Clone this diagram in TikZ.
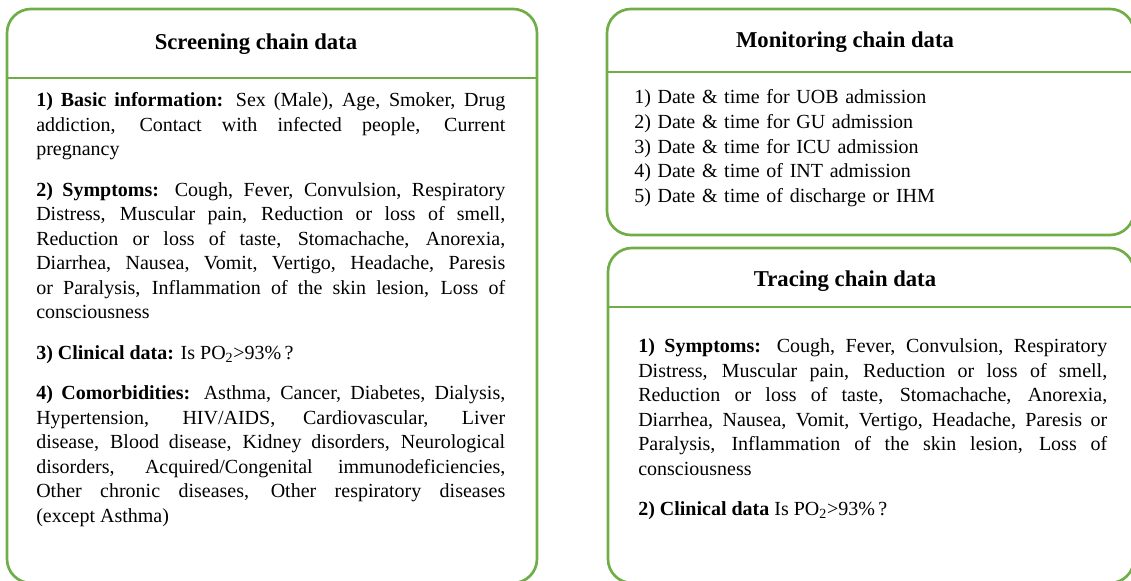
\documentclass[tikz,border=0pt]{standalone}
\usepackage{xcolor}
\usepackage{tikz}
\usepackage{fontspec}
\setmainfont{Liberation Serif}
\usetikzlibrary{positioning,calc}
\definecolor{chaingreen}{RGB}{112,173,71}

\begin{document}
\begin{tikzpicture}[x=0.75pt, y=-0.75pt,
  chainbox/.style={draw=chaingreen, line width=2pt, rounded corners=18pt},
  chainline/.style={draw=chaingreen, line width=2pt},
  chaintitle/.style={anchor=base, inner sep=0pt, font=\fontsize{17}{20}\selectfont\bfseries},
  chaintext/.style={anchor=base west, inner sep=0pt, text width=351.75pt, align=justify,
    font=\fontsize{15}{18.4}\selectfont, execute at begin node={\setlength{\parskip}{12pt}}}]
  \useasboundingbox (0,0) rectangle (1131,581);

  % Frames and header lines
  \foreach \l/\t/\r/\b/\d in {7/9/537/583/78, 607/9/1134/235/72, 608/248/1134/583/307} {
    \draw[chainbox] (\l,\t) rectangle (\r,\b);
    \draw[chainline] (\l,\d) -- (\r,\d);
  }

  % Titles
  \node[chaintitle] (screentitle) at (256,49.5) {Screening chain data};
  \node[chaintitle] (monitortitle) at (845,47.5) {Monitoring chain data};
  \node[chaintitle] (tracetitle) at (845,286.5) {Tracing chain data};

  % Screening chain
  \node[chaintext] (screentext) at (36,106.5) {%
    \textbf{1) Basic information:} Sex (Male), Age, Smoker, Drug\linebreak
    addiction, Contact with infected people, Current\linebreak
    pregnancy\par
    \textbf{2) Symptoms:} Cough, Fever, Convulsion, Respiratory\linebreak
    Distress, Muscular pain, Reduction or loss of smell,\linebreak
    Reduction or loss of taste, Stomachache, Anorexia,\linebreak
    Diarrhea, Nausea, Vomit, Vertigo, Headache, Paresis\linebreak
    or Paralysis, Inflammation of the skin lesion, Loss of\linebreak
    consciousness\par
    \textbf{3) Clinical data:} Is PO\textsubscript{2}>93\%\,?\par
    \textbf{4) Comorbidities:} Asthma, Cancer, Diabetes, Dialysis,\linebreak
    Hypertension, HIV/AIDS, Cardiovascular, Liver\linebreak
    disease, Blood disease, Kidney disorders, Neurological\linebreak
    disorders, Acquired/Congenital immunodeficiencies,\linebreak
    Other chronic diseases, Other respiratory diseases\linebreak
    (except Asthma)};

  % Monitoring chain
  \node[chaintext, align=left] (monitortext) at (634,104) {%
    1) Date \& time for UOB admission\\
    2) Date \& time for GU admission\\
    3) Date \& time for ICU admission\\
    4) Date \& time of INT admission\\
    5) Date \& time of discharge or IHM};

  % Tracing chain
  \node[chaintext] (tracetext) at (638,352.7) {%
    \textbf{1) Symptoms:} Cough, Fever, Convulsion, Respiratory\linebreak
    Distress, Muscular pain, Reduction or loss of smell,\linebreak
    Reduction or loss of taste, Stomachache, Anorexia,\linebreak
    Diarrhea, Nausea, Vomit, Vertigo, Headache, Paresis or\linebreak
    Paralysis, Inflammation of the skin lesion, Loss of\linebreak
    consciousness\par
    \textbf{2) Clinical data} Is PO\textsubscript{2}>93\%\,?};
\end{tikzpicture}
\end{document}
